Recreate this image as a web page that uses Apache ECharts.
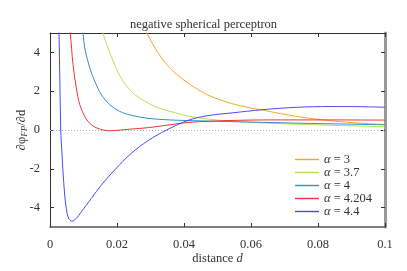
<!DOCTYPE html>
<html><head><meta charset="utf-8">
<script src="https://cdn.jsdelivr.net/npm/echarts@6/dist/echarts.min.js"></script>
<style>html,body{margin:0;padding:0;background:#fff}#c{width:407px;height:271px}</style>
</head><body><div id="c"></div>
<script>
const titleText = 'negative spherical perceptron';
const alphas = ['3', '3.7', '4', '4.204', '4.4'];
const colors = ['#f2a72a', '#b9e24e', '#2e90cc', '#ec3530', '#4b4bf2'];
const xTicks = [0, 0.02, 0.04, 0.06, 0.08, 0.1];
const yTicks = [-4, -2, 0, 2, 4];

const d30 = [0.0283, 0.0289, 0.0319, 0.0348, 0.0378, 0.0418, 0.0468, 0.0517, 0.0567, 0.0642, 0.0736, 0.0836, 0.0935, 0.1];
const v30 = [5.4, 5.0, 4.07, 3.38, 2.87, 2.35, 1.83, 1.5, 1.25, 1.0, 0.70, 0.48, 0.34, 0.28];

const d37 = [0.0153, 0.0158, 0.0173, 0.0193, 0.0218, 0.0253, 0.0293, 0.0322, 0.0358, 0.0418, 0.0478, 0.0537, 0.0642, 0.0737, 0.0866, 0.1];
const v37 = [5.5, 5.0, 4.24, 3.38, 2.52, 1.83, 1.39, 1.15, 0.96, 0.70, 0.55, 0.46, 0.36, 0.30, 0.23, 0.17];

const d40 = [0.0094, 0.00985, 0.01036, 0.01185, 0.01334, 0.01531, 0.01782, 0.02081, 0.02427, 0.02925, 0.0358, 0.0448, 0.0597, 0.0746, 0.0866, 0.1];
const v40 = [5.5, 5.0, 4.24, 3.21, 2.52, 1.83, 1.31, 0.96, 0.76, 0.60, 0.52, 0.47, 0.41, 0.35, 0.31, 0.27];

const d42 = [0.0058, 0.00606, 0.00687, 0.00785, 0.00887, 0.01036, 0.01134, 0.01233, 0.01373, 0.01633, 0.0179, 0.0193, 0.0243, 0.0293, 0.0358, 0.0418, 0.0478, 0.0537, 0.0657, 0.0836, 0.1];
const v42 = [5.4, 5.0, 3.38, 2.17, 1.31, 0.70, 0.45, 0.27, 0.12, -0.02, -0.04, -0.03, 0.05, 0.12, 0.27, 0.40, 0.45, 0.49, 0.52, 0.52, 0.51];

const d44 = [0.0026, 0.0027, 0.0032, 0.00337, 0.00388, 0.00439, 0.00487, 0.00558, 0.00657, 0.00785, 0.00934, 0.01233, 0.01531, 0.01931, 0.02427, 0.02925, 0.0348, 0.0418, 0.0478, 0.0537, 0.0636, 0.0737, 0.0836, 0.0934, 0.1];
const v44 = [5.5, 5.0, 0, -0.59, -2.14, -3.35, -4.05, -4.56, -4.70, -4.56, -4.22, -3.53, -2.84, -2.06, -1.2, -0.55, 0, 0.53, 0.76, 0.87, 1.05, 1.17, 1.21, 1.2, 1.17];

const xs = [d30, d37, d40, d42, d44];
const vs = [v30, v37, v40, v42, v44];

const serif = 'Liberation Serif';
const fs = 12.5;
const chart = echarts.init(document.getElementById('c'), null, {renderer: 'canvas'});

const series = alphas.map((a, i) => ({
  name: a,
  type: 'line',
  symbol: 'none',
  smooth: 0.35,
  clip: true,
  data: xs[i].map((x, j) => [x, vs[i][j]]),
  lineStyle: {color: colors[i], width: 1},
  itemStyle: {color: colors[i]},
  z: 3 + i,
  markLine: i === 0 ? {
    silent: true, symbol: 'none', label: {show: false},
    lineStyle: {color: '#b0b0b0', type: [1, 2], width: 1},
    data: [{yAxis: 0}]
  } : undefined
}));

const tick = vals => ({inside: true, length: 4, customValues: vals, lineStyle: {color: '#333'}});

chart.setOption({
  animation: false,
  backgroundColor: '#fff',
  title: {
    text: titleText, left: 'center', top: 18, padding: 0,
    textStyle: {fontFamily: serif, fontSize: fs, fontWeight: 'normal', color: '#333'}
  },
  grid: {left: 50, top: 33, width: 335, height: 194, containLabel: false, outerBoundsMode: 'none'},
  legend: {
    orient: 'vertical', left: 295, top: 153, padding: 0, itemWidth: 24, itemHeight: 12.7, itemGap: 0,
    icon: 'path://M0,5 L24,5 L24,6.4 L0,6.4 Z',
    formatter: n => '{a|α} = ' + n,
    textStyle: {fontFamily: serif, fontSize: fs, color: '#333', lineHeight: 12.7,
      rich: {a: {fontFamily: serif, fontStyle: 'italic', fontSize: fs, color: '#333', lineHeight: 12.7}}}
  },
  xAxis: [
    {
      type: 'value', min: 0, max: 0.1, position: 'bottom', splitLine: {show: false},
      axisLine: {onZero: false, lineStyle: {color: '#555', width: 1.5}},
      axisTick: tick(xTicks),
      axisLabel: {customValues: xTicks, margin: 11, fontFamily: serif, fontSize: fs, color: '#333',
        formatter: v => String(+v.toFixed(2))},
      name: '{n|distance }{i|d}', nameLocation: 'middle', nameGap: 25, nameMoveOverlap: false,
      nameTextStyle: {rich: {n: {fontFamily: serif, fontSize: fs, color: '#333'}, i: {fontFamily: serif, fontSize: fs, fontStyle: 'italic', color: '#333'}}}
    },
    {
      type: 'value', min: 0, max: 0.1, position: 'top', splitLine: {show: false},
      axisLine: {onZero: false, lineStyle: {color: '#333', width: 1}},
      axisTick: tick(xTicks),
      axisLabel: {show: false}
    }
  ],
  yAxis: [
    {
      type: 'value', min: -5, max: 5, position: 'left', splitLine: {show: false},
      axisLine: {show: true, onZero: false, lineStyle: {color: '#333', width: 1}},
      axisTick: tick(yTicks),
      axisLabel: {customValues: yTicks, margin: 10, fontFamily: serif, fontSize: fs, color: '#333'},
      name: '{a|∂φ}{s|FP}{a|/∂d}', nameLocation: 'middle', nameGap: 21, nameRotate: 90, nameMoveOverlap: false,
      nameTextStyle: {rich: {
        a: {fontFamily: serif, fontSize: fs, color: '#333', lineHeight: 15},
        s: {fontFamily: serif, fontSize: 9, fontStyle: 'italic', color: '#333', verticalAlign: 'bottom', lineHeight: 15, padding: [4, 0, 0, 0]}
      }}
    },
    {
      type: 'value', min: -5, max: 5, position: 'right', splitLine: {show: false},
      axisLine: {show: true, onZero: false, lineStyle: {color: '#999', width: 3}},
      axisTick: tick(yTicks),
      axisLabel: {show: false}
    }
  ],
  series: series
});
</script></body></html>
